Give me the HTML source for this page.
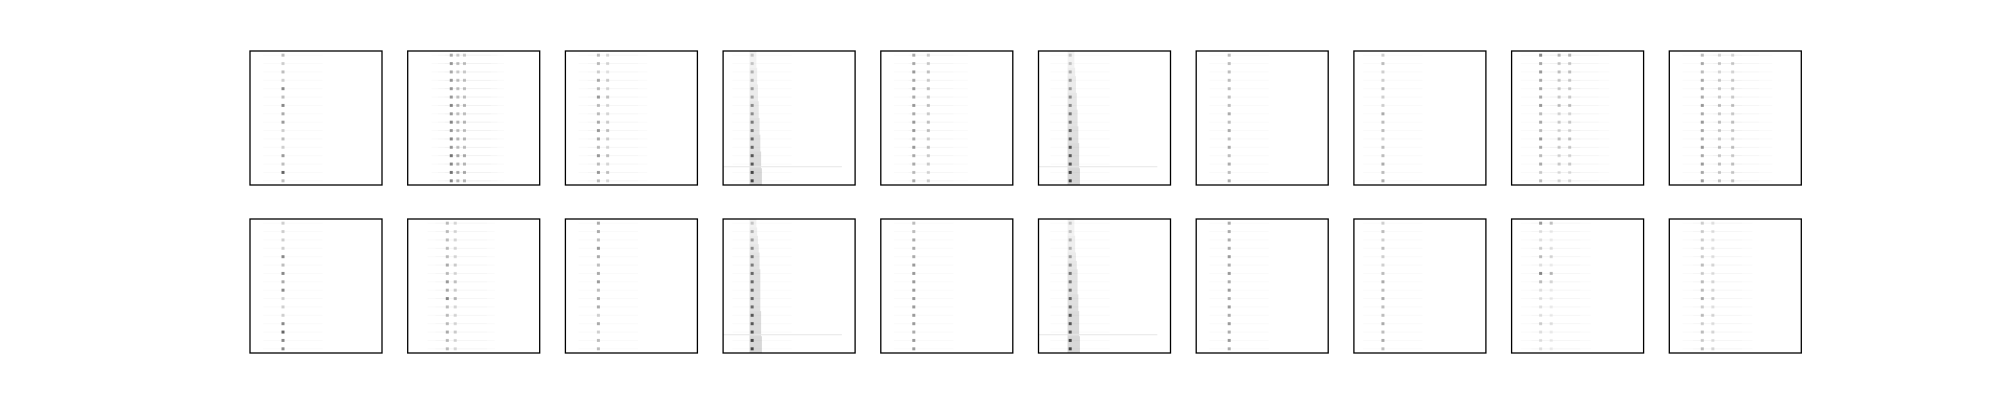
<!DOCTYPE html>
<html><head><meta charset="utf-8"><style>
html,body{margin:0;padding:0;background:#fff;width:2000px;height:400px;overflow:hidden}
svg{display:block}
</style></head><body>
<svg id="fig" width="2000" height="400" xmlns="http://www.w3.org/2000/svg"></svg>
<script>
// per-panel column positions (fraction of width) of the tonal lines
const panelCols = [
 [0.25],[0.33,0.38,0.43],[0.25,0.32],[0.22],[0.25,0.36],[0.24],[0.25],[0.22],[0.22,0.36,0.44],[0.25,0.38,0.48],
 [0.25],[0.30,0.36],[0.25],[0.22],[0.25],[0.24],[0.25],[0.22],[0.22,0.30],[0.25,0.33]
];
// per-panel row intensities (0-9), top to bottom
const panelRows = [
 "3232636452325383","4545556565657676","3324353345435353","2233445566778899","4454545455454434","2234455667788899","3333333434343434","2322322433233434","6454445343543423","3434445454454545",
 "2222636462226866","3333343546333433","4435434534424233","2345667777788899","3344455555555455","2233456667788899","4444545454545454","2323223434334343","5112316311112111","2222232334232323"
];
// band panels (broad noise) flag
const panelBand = [0,0,0,1,0,1,0,0,0,0, 0,0,0,1,0,1,0,0,0,0];

const svg=document.getElementById('fig');
const NS='http://www.w3.org/2000/svg';
const X0=250, DX=157.7, W=132, Y0=[51,219], H=134;
function px(p,f){return X0+DX*(p%10)+f*W;}
function py(p,f){return Y0[Math.floor(p/10)]+f*H;}
for(let p=0;p<20;p++){
  const g=document.createElementNS(NS,'g');
  
  
  svg.appendChild(g);
  const rows=panelRows[p];
  const n=rows.length;
  if(panelBand[p]){
    for(let i=0;i<n;i++){
      const v=+rows[i];
      const r=document.createElementNS(NS,'rect');
      
      
      const c=panelCols[p][0];
      r.setAttribute('x',px(p,c-0.02));r.setAttribute('y',py(p,i/n));
      r.setAttribute('width',W*(0.04+v*0.006));r.setAttribute('height',H/n);
      r.setAttribute('fill','#000');r.setAttribute('opacity',0.02+v*0.015);
      g.appendChild(r);
    }
    const ln=document.createElementNS(NS,'rect');
    
    
    ln.setAttribute('x',px(p,0));ln.setAttribute('y',py(p,0.86));
    ln.setAttribute('width',W*0.9);ln.setAttribute('height',1);
    ln.setAttribute('fill','#e6e6e6');
    g.appendChild(ln);
  }
  for(let i=0;i<n;i++){
    const v=+rows[i];
    panelCols[p].forEach((c,k)=>{
      const yy=py(p,(i+0.5)/n);
      const t=document.createElementNS(NS,'rect');
      
      
      t.setAttribute('x',px(p,c-0.15));t.setAttribute('y',yy-0.5);
      t.setAttribute('width',W*0.45);t.setAttribute('height',1);
      t.setAttribute('fill','#000');t.setAttribute('opacity',0.02);
      g.appendChild(t);
      const d=document.createElementNS(NS,'rect');
      
      
      d.setAttribute('x',px(p,c)-1.5);d.setAttribute('y',yy-1.5);
      d.setAttribute('width',3);d.setAttribute('height',3);
      d.setAttribute('fill','#000');d.setAttribute('opacity',(0.04+v*0.07)*(k?0.6:1));
      g.appendChild(d);
    });
  }
  const b=document.createElementNS(NS,'rect');
  
  
  b.setAttribute('x',px(p,0));b.setAttribute('y',py(p,0));
  b.setAttribute('width',W);b.setAttribute('height',H);
  b.setAttribute('fill','none');b.setAttribute('stroke','#000');b.setAttribute('stroke-width',1.3);
  g.appendChild(b);
}
</script>
</body></html>
